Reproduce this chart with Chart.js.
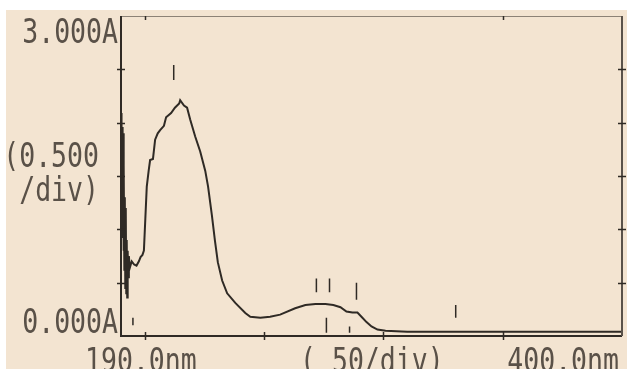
<!DOCTYPE html>
<html>
<head>
<meta charset="utf-8">
<script src="https://cdn.jsdelivr.net/npm/chart.js@4/dist/chart.umd.min.js"></script>
<style>
  html, body { margin: 0; padding: 0; background: #ffffff; }
  #wrap { width: 627px; height: 369px; position: relative; }
</style>
</head>
<body>
<div id="wrap"><canvas id="spec" width="627" height="369"></canvas></div>
<script>
// spectrum (nm, absorbance)
const wavelengths = [190.0, 190.15, 190.3, 190.45, 190.6, 190.75, 190.9, 191.05, 191.2, 191.4, 191.6, 191.8, 192.0, 192.2, 192.4, 192.6, 192.8, 193.0, 193.3, 193.7, 194.5, 195.5, 196.5, 197.5, 198.2, 199.0, 199.6, 200.2, 200.8, 201.6, 202.2, 203.4, 204.3, 205.4, 206.4, 208.0, 208.9, 211.0, 212.6, 214.4, 214.8, 216.4, 217.7, 219.0, 221.1, 223.2, 225.3, 226.5, 228.1, 229.4, 230.6, 232.4, 234.5, 237.9, 242.1, 244.2, 248.4, 252.5, 256.7, 263.0, 267.3, 271.5, 275.7, 279.0, 282.0, 284.5, 287.0, 289.1, 290.8, 292.9, 295.0, 297.5, 300.9, 310.0, 350.0, 400.0];
const absorbance = [2.09, 0.95, 2.02, 1.00, 1.96, 0.92, 1.90, 0.80, 1.60, 0.62, 1.30, 0.45, 1.20, 0.40, 0.90, 0.36, 0.80, 0.55, 0.75, 0.64, 0.70, 0.67, 0.66, 0.70, 0.74, 0.76, 0.80, 1.10, 1.40, 1.55, 1.65, 1.66, 1.84, 1.90, 1.93, 1.97, 2.05, 2.09, 2.14, 2.18, 2.21, 2.16, 2.14, 2.03, 1.87, 1.73, 1.55, 1.40, 1.13, 0.89, 0.69, 0.52, 0.40, 0.31, 0.215, 0.18, 0.17, 0.18, 0.20, 0.26, 0.29, 0.30, 0.30, 0.29, 0.27, 0.23, 0.22, 0.22, 0.18, 0.13, 0.09, 0.06, 0.05, 0.04, 0.04, 0.04];

// peak / valley pick marks
const markNm = [212.1, 271.9, 277.4, 288.7, 330.3, 276.1, 285.8, 195.0];
const markHigh = [2.54, 0.54, 0.54, 0.50, 0.29, 0.17, 0.09, 0.17];
const markLow = [2.40, 0.41, 0.41, 0.34, 0.17, 0.03, 0.03, 0.10];

const yTicks = [0, 0.5, 1.0, 1.5, 2.0, 2.5, 3.0];
const xTicks = [200, 250, 300, 350];
const yLabels = ['3.000A', '(0.500', '/div)', '0.000A'];
const xLabels = ['190.0nm', '( 50/div)', '400.0nm'];

const ink = '#2f2a25';
const paper = '#f3e4d1';

const markPoints = [];
markNm.forEach((nm, i) => {
  markPoints.push({ x: nm, y: markHigh[i] });
  markPoints.push({ x: nm, y: markLow[i] });
  markPoints.push({ x: nm, y: null });
});

function lcdText(ctx, str, x, y, align) {
  ctx.save();
  ctx.translate(x, y);
  ctx.scale(0.78, 1);
  ctx.font = '34px "DejaVu Sans Mono"';
  ctx.fillStyle = '#5a5148';
  ctx.textAlign = align;
  ctx.textBaseline = 'alphabetic';
  ctx.fillText(str, 0, 0);
  ctx.restore();
}

const screenPlugin = {
  id: 'screen',
  beforeDraw(chart) {
    const ctx = chart.ctx;
    ctx.save();
    ctx.fillStyle = paper;
    ctx.fillRect(6, 10, chart.width - 6, chart.height - 10);
    ctx.restore();
  },
  afterDraw(chart) {
    const ctx = chart.ctx;
    const a = chart.chartArea;
    const xs = chart.scales.x, ys = chart.scales.y;
    ctx.save();
    // frame
    ctx.strokeStyle = '#8c8276';
    ctx.lineWidth = 1;
    ctx.beginPath();
    ctx.moveTo(a.left, a.top + 0.5);
    ctx.lineTo(a.right, a.top + 0.5);
    ctx.stroke();
    ctx.strokeStyle = ink;
    ctx.lineWidth = 2;
    ctx.beginPath();
    ctx.moveTo(a.left, a.top);
    ctx.lineTo(a.left, a.bottom);
    ctx.lineTo(a.right, a.bottom);
    ctx.stroke();
    ctx.strokeStyle = '#5a524a';
    ctx.beginPath();
    ctx.moveTo(a.right, a.top);
    ctx.lineTo(a.right, a.bottom);
    ctx.stroke();
    // tick crosses
    ctx.strokeStyle = ink;
    ctx.lineWidth = 1.5;
    yTicks.forEach(v => {
      if (v === 0 || v === 3) return;
      const py = Math.round(ys.getPixelForValue(v)) + 0.5;
      ctx.beginPath();
      ctx.moveTo(a.left - 4, py); ctx.lineTo(a.left + 4, py);
      ctx.moveTo(a.right - 4, py); ctx.lineTo(a.right + 4, py);
      ctx.stroke();
    });
    xTicks.forEach(v => {
      const px = Math.round(xs.getPixelForValue(v)) + 0.5;
      ctx.beginPath();
      ctx.moveTo(px, a.bottom - 4); ctx.lineTo(px, a.bottom + 4);
      ctx.stroke();
    });
    [200, 350].forEach(v => {
      const px = Math.round(xs.getPixelForValue(v)) + 0.5;
      ctx.beginPath();
      ctx.moveTo(px, a.top); ctx.lineTo(px, a.top + 4);
      ctx.stroke();
    });
    ctx.restore();
    // screen texts
    lcdText(ctx, yLabels[0], a.left - 3, a.top + 27, 'right');
    lcdText(ctx, yLabels[1], 99, 167, 'right');
    lcdText(ctx, yLabels[2], 99, 201, 'right');
    lcdText(ctx, yLabels[3], a.left - 3, a.bottom - 3, 'right');
    lcdText(ctx, xLabels[0], 85, 372, 'left');
    lcdText(ctx, xLabels[1], 300, 372, 'left');
    lcdText(ctx, xLabels[2], 619, 372, 'right');
  }
};

new Chart(document.getElementById('spec'), {
  type: 'line',
  data: {
    datasets: [{
      data: wavelengths.map((w, i) => ({ x: w, y: absorbance[i] })),
      borderColor: ink,
      borderWidth: 2,
      pointRadius: 0,
      tension: 0
    }, {
      data: markPoints,
      borderColor: ink,
      borderWidth: 1.5,
      pointRadius: 0,
      spanGaps: false
    }]
  },
  options: {
    responsive: false,
    animation: false,
    layout: { padding: { left: 121, top: 16, right: 5, bottom: 33 } },
    plugins: { legend: { display: false }, tooltip: { enabled: false } },
    scales: {
      x: { type: 'linear', min: 190, max: 400, display: false },
      y: { min: 0, max: 3, display: false }
    }
  },
  plugins: [screenPlugin]
});
</script>
</body>
</html>
